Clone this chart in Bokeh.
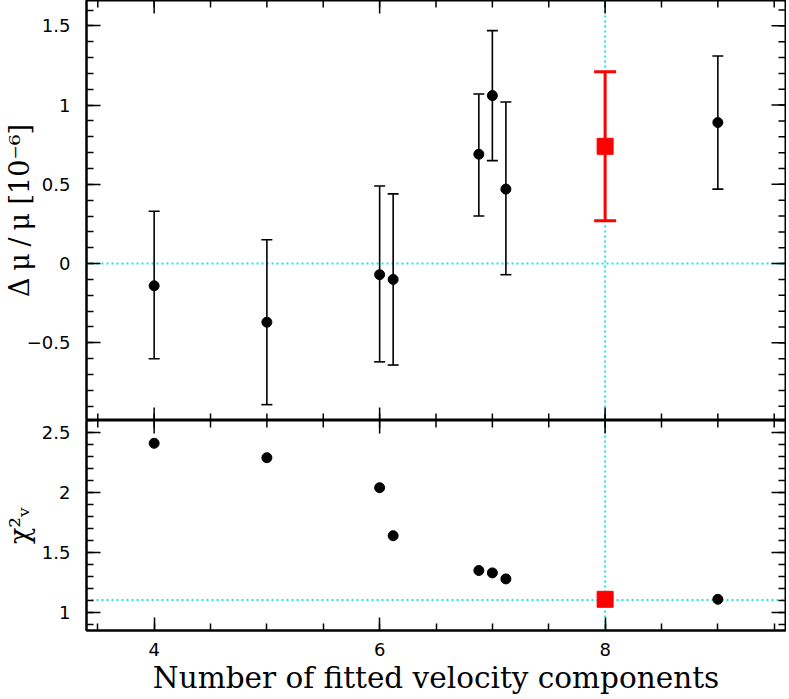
from bokeh.plotting import figure
from bokeh.models import Range1d, FixedTicker, Span, Whisker, ColumnDataSource, TeeHead
from bokeh.layouts import column
from bokeh.embed import file_html
from bokeh.resources import INLINE

# ---------------- data ----------------
n_comp = [4, 5, 6, 6.12, 6.88, 7, 7.12, 9]
dmu = [-0.14, -0.37, -0.07, -0.10, 0.69, 1.06, 0.47, 0.89]
dmu_hi = [0.33, 0.15, 0.49, 0.44, 1.07, 1.47, 1.02, 1.31]
dmu_lo = [-0.60, -0.89, -0.62, -0.64, 0.30, 0.65, -0.07, 0.47]
chi2 = [2.41, 2.29, 2.04, 1.64, 1.35, 1.33, 1.28, 1.11]

best_n = [8]
best_dmu = [0.74]
best_hi = [1.21]
best_lo = [0.27]
best_chi2 = [1.11]

ref_dmu = 0.0
ref_chi2 = 1.105
ref_n = 8

x_major = [4, 6, 8]
x_minor = [3.5, 4, 4.5, 5, 5.5, 6, 6.5, 7, 7.5, 8, 8.5, 9, 9.5]
y1_major = [-0.5, 0, 0.5, 1, 1.5]
y1_labels = ["\u22120.5", "0", "0.5", "1", "1.5"]
y1_minor = [-0.9, -0.8, -0.7, -0.6, -0.5, -0.4, -0.3, -0.2, -0.1, 0.0,
            0.1, 0.2, 0.3, 0.4, 0.5, 0.6, 0.7, 0.8, 0.9, 1.0,
            1.1, 1.2, 1.3, 1.4, 1.5, 1.6]
y2_major = [1, 1.5, 2, 2.5]
y2_labels = ["1", "1.5", "2", "2.5"]
y2_minor = [0.9, 1.0, 1.1, 1.2, 1.3, 1.4, 1.5, 1.6, 1.7, 1.8, 1.9,
            2.0, 2.1, 2.2, 2.3, 2.4, 2.5, 2.6]

x_lim = (3.4, 9.6)
y1_lim = (-0.99, 1.66)
y2_lim = (0.85, 2.6)

x_label = "Number of fitted velocity components"
y1_title = "\u0394\u2005\u03bc\u2005/\u2005\u03bc [10\u207b\u2076]"
y2_title = "\u03c7\u00b2\u1d65"

# ---------------- styling ----------------
TICK_FONT = "DejaVu Sans"
TITLE_FONT = "DejaVu Serif"
CYAN = "#1ee6e6"
MAJ, MIN_ = 13, 7

xr = Range1d(*x_lim)


def style_axis(ax, major_in, minor_in):
    ax.axis_line_color = "black"
    ax.axis_line_width = 2
    ax.major_tick_in = major_in
    ax.major_tick_out = 0
    ax.minor_tick_in = minor_in
    ax.minor_tick_out = 0
    ax.major_tick_line_color = "black"
    ax.minor_tick_line_color = "black"
    ax.major_tick_line_width = 1.5
    ax.minor_tick_line_width = 1.5
    ax.major_label_text_font = TICK_FONT
    ax.major_label_text_font_size = "18px"
    ax.major_label_text_color = "black"
    ax.axis_label_text_font = TITLE_FONT
    ax.axis_label_text_font_style = "normal"
    ax.axis_label_text_color = "black"


def make_fig(ylim, fh, show_x):
    p = figure(x_range=xr, y_range=Range1d(*ylim), frame_width=699, frame_height=fh,
               output_backend="svg", toolbar_location=None,
               x_axis_location=("below" if show_x else None),
               min_border_left=80, min_border_right=1,
               min_border_top=0, min_border_bottom=0)
    p.grid.visible = False
    p.outline_line_color = "black"
    p.outline_line_width = 2
    p.background_fill_color = "white"
    p.border_fill_color = "white"
    return p


def edge_ticks(p, xs, ys, length, angle):
    p.ray(x=xs, y=ys, length=length, length_units="screen", angle=angle,
          angle_units="deg", line_color="black", line_width=1.5)


def guide(p, loc, dim):
    p.add_layout(Span(location=loc, dimension=dim, line_color=CYAN,
                      line_dash="2 3", line_width=2, level="underlay"))


# ---------------- top panel ----------------
p1 = make_fig(y1_lim, 420, False)
y1t = FixedTicker(ticks=y1_major, minor_ticks=y1_minor)
p1.yaxis.ticker = y1t
style_axis(p1.yaxis[0], 14, 7)
p1.yaxis.major_label_overrides = dict(zip(y1_major, y1_labels))
p1.yaxis.major_label_standoff = 16
p1.yaxis.major_label_orientation = "horizontal"
p1.yaxis.axis_label = y1_title
p1.yaxis.axis_label_text_font_size = "27px"
p1.yaxis.axis_label_standoff = -11

guide(p1, ref_dmu, "width")
guide(p1, ref_n, "height")

# ticks on top, bottom and right edges
edge_ticks(p1, x_major, [y1_lim[1]] * len(x_major), MAJ, -90)
edge_ticks(p1, x_minor, [y1_lim[1]] * len(x_minor), MIN_, -90)
edge_ticks(p1, x_major, [y1_lim[0]] * len(x_major), MAJ, 90)
edge_ticks(p1, x_minor, [y1_lim[0]] * len(x_minor), MIN_, 90)
edge_ticks(p1, [x_lim[1]] * len(y1_major), y1_major, 14, 180)
edge_ticks(p1, [x_lim[1]] * len(y1_minor), y1_minor, 7, 180)

src = ColumnDataSource(dict(x=n_comp, y=dmu, hi=dmu_hi, lo=dmu_lo))
p1.add_layout(Whisker(base="x", upper="hi", lower="lo", source=src,
                      dimension="height", line_color="black", line_width=1.6,
                      upper_head=TeeHead(size=11, line_color="black", line_width=1.6),
                      lower_head=TeeHead(size=11, line_color="black", line_width=1.6)))
p1.scatter("x", "y", source=src, marker="circle", size=10,
           fill_color="black", line_color="black")

bsrc = ColumnDataSource(dict(x=best_n, y=best_dmu, hi=best_hi, lo=best_lo))
p1.add_layout(Whisker(base="x", upper="hi", lower="lo", source=bsrc,
                      dimension="height", line_color="red", line_width=3,
                      upper_head=TeeHead(size=22, line_color="red", line_width=3),
                      lower_head=TeeHead(size=22, line_color="red", line_width=3)))
p1.scatter("x", "y", source=bsrc, marker="square", size=16,
           fill_color="red", line_color="red")

# ---------------- bottom panel ----------------
p2 = make_fig(y2_lim, 210, True)
xt = FixedTicker(ticks=x_major, minor_ticks=x_minor)
y2t = FixedTicker(ticks=y2_major, minor_ticks=y2_minor)

p2.xaxis.ticker = xt
style_axis(p2.xaxis[0], MAJ, MIN_)
p2.xaxis.major_label_standoff = 12
p2.xaxis.axis_label = x_label
p2.xaxis.axis_label_text_font_size = "29.5px"
p2.xaxis.axis_label_standoff = 2

p2.yaxis.ticker = y2t
style_axis(p2.yaxis[0], 14, 7)
p2.yaxis.major_label_overrides = dict(zip(y2_major, y2_labels))
p2.yaxis.major_label_standoff = 16
p2.yaxis.major_label_orientation = "horizontal"
p2.yaxis.axis_label = y2_title
p2.yaxis.axis_label_text_font_size = "27px"
p2.yaxis.axis_label_standoff = 4

guide(p2, ref_chi2, "width")
guide(p2, ref_n, "height")

edge_ticks(p2, x_major, [y2_lim[1]] * len(x_major), MAJ, -90)
edge_ticks(p2, x_minor, [y2_lim[1]] * len(x_minor), MIN_, -90)
edge_ticks(p2, [x_lim[1]] * len(y2_major), y2_major, 14, 180)
edge_ticks(p2, [x_lim[1]] * len(y2_minor), y2_minor, 7, 180)

p2.scatter(n_comp, chi2, marker="circle", size=10,
           fill_color="black", line_color="black")
p2.scatter(best_n, best_chi2, marker="square", size=16,
           fill_color="red", line_color="red")

layout = column(p1, p2, spacing=0)

with open("out.html", "w") as f:
    f.write(file_html(layout, INLINE))
